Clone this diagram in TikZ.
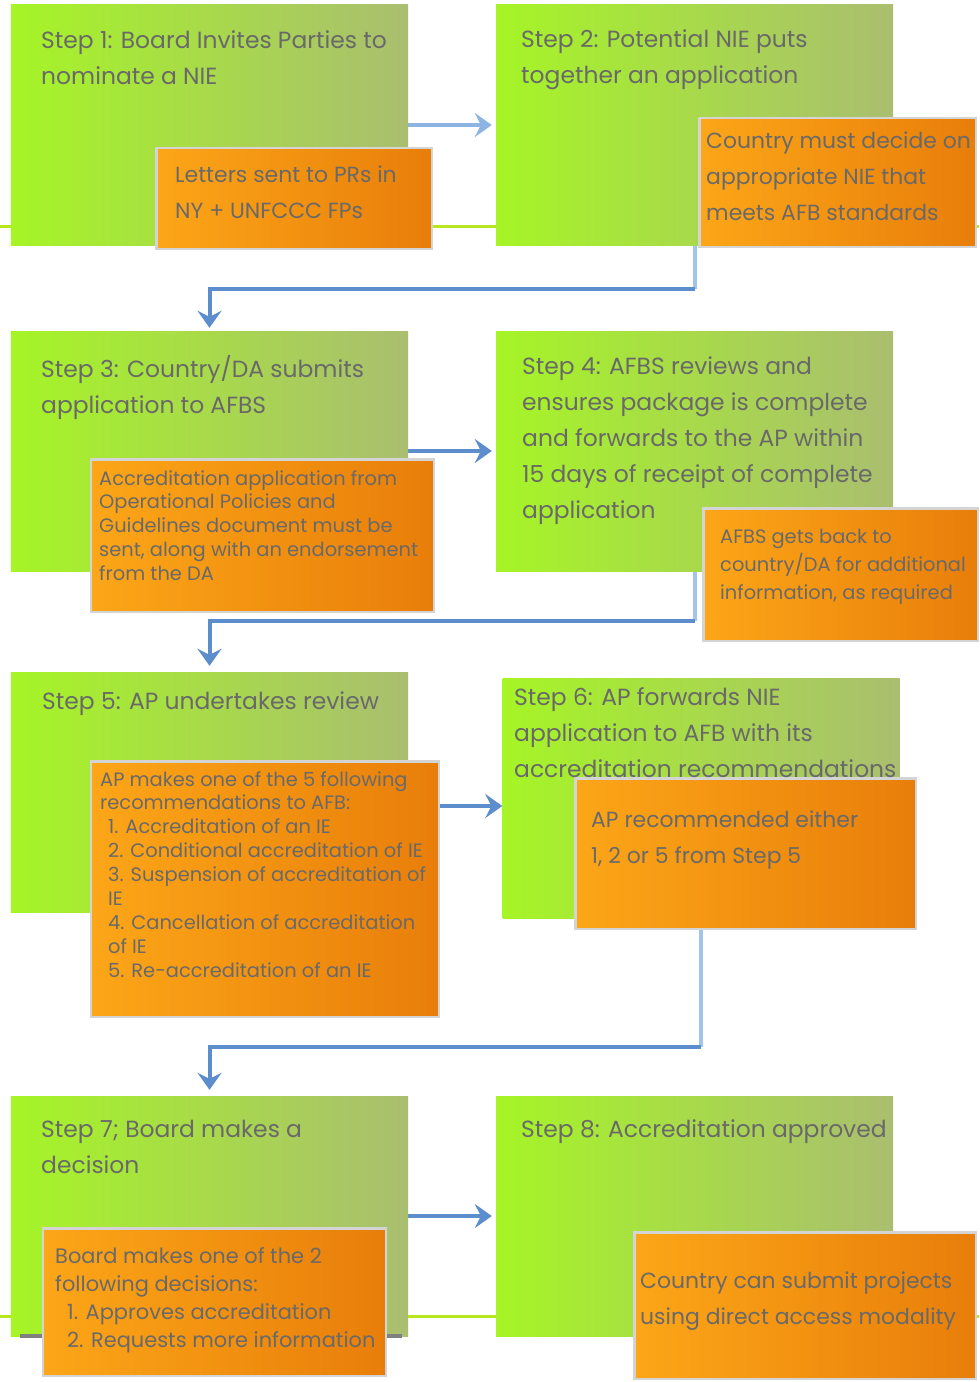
\documentclass[tikz,border=0pt]{standalone}
\usepackage{fontspec}
\setmainfont{Poppins}
\usetikzlibrary{arrows.meta,backgrounds}

\definecolor{stepleft}{RGB}{166,245,38}
\definecolor{stepright}{RGB}{170,190,112}
\definecolor{noteleft}{RGB}{252,166,24}
\definecolor{noteright}{RGB}{232,126,10}
\definecolor{noteframe}{RGB}{212,212,212}
\definecolor{txtgray}{RGB}{105,105,105}
\definecolor{arrowblue}{RGB}{92,142,206}
\definecolor{paleblue}{RGB}{162,196,234}
\definecolor{stripegreen}{RGB}{184,230,30}

\begin{document}
\begin{tikzpicture}[x=1bp, y=-1bp, node distance=485bp]
  % Define block styles
  \tikzstyle{stepbox} = [rectangle, minimum width=397bp, minimum height=240bp, inner sep=0, left color=stepleft, right color=stepright]
  \tikzstyle{notebox} = [rectangle, draw=noteframe, line width=2.5bp, inner sep=0, left color=noteleft, right color=noteright]
  \tikzstyle{titletext} = [anchor=north west, inner sep=0, align=left, text=txtgray, font=\fontsize{23.5}{36}\selectfont]
  \tikzstyle{notetext} = [titletext, font=\fontsize{22}{36}\selectfont]
  \tikzstyle{midtext} = [titletext, font=\fontsize{21}{28}\selectfont]
  \tikzstyle{smalltext} = [titletext, font=\fontsize{19.5}{24}\selectfont]
  \tikzstyle{line} = [draw=arrowblue, line width=4bp, -{Stealth[length=17bp, width=24bp, inset=6bp]}]
  \tikzstyle{feed} = [draw=paleblue, line width=4bp]

  \useasboundingbox (0,0) rectangle (979,1382);

  % Place blocks
  \node [stepbox] (step1) at (209.5,125) {};
  \node [stepbox, right of=step1] (step2) {};
  \node [stepbox, below of=step1, node distance=326bp] (step3) {};
  \node [stepbox, right of=step3] (step4) {};
  \node [stepbox, below of=step3, node distance=341bp] (step5) {};
  \node [stepbox] (step6) at (701,798) {};
  \node [stepbox, below of=step5, node distance=424bp] (step7) {};
  \node [stepbox, right of=step7] (step8) {};

  % shadow under step 7
  \fill [black!50] (20,1334) rectangle (402,1338);

  \node [notebox, minimum width=275.5bp, minimum height=100.5bp] (note1) at (294,198.5) {};
  \node [notebox, minimum width=276.5bp, minimum height=128.5bp] (note2) at (837.5,182.5) {};
  \node [notebox, minimum width=342.5bp, minimum height=152.5bp] (note3) at (262.5,535.5) {};
  \node [notebox, minimum width=274.5bp, minimum height=132.5bp] (note4) at (840.5,574.5) {};
  \node [notebox, minimum width=347.5bp, minimum height=255.5bp] (note5) at (265,889) {};
  \node [notebox, minimum width=340.5bp, minimum height=150.5bp] (note6) at (745.5,853.5) {};
  \node [notebox, minimum width=342.5bp, minimum height=147.5bp] (note7) at (214.5,1302) {};
  \node [notebox, minimum width=341.5bp, minimum height=146.5bp] (note8) at (805,1305.5) {};

  % Texts
  \node [titletext] (step1txt) at (41,30.6) {Step 1: Board Invites Parties to\\nominate a NIE};
  \node [notetext] (note1txt) at (175,166) {Letters sent to PRs in\\NY + UNFCCC FPs};
  \node [titletext] (step2txt) at (521,29.6) {Step 2: Potential NIE puts\\together an application};
  \node [notetext] (note2txt) at (706,132) {Country must decide on\\appropriate NIE that\\meets AFB standards};
  \node [titletext] (step3txt) at (41,355.6) {Step 3: Country/DA submits\\application to AFBS};
  \node [smalltext] (note3txt) at (99,470) {Accreditation application from\\Operational Policies and\\Guidelines document must be\\sent, along with an endorsement\\from the DA};
  \node [titletext] (step4txt) at (522,356.6) {Step 4: AFBS reviews and\\ensures package is complete\\and forwards to the AP within\\15 days of receipt of complete\\application};
  \node [midtext, font=\fontsize{19.5}{28}\selectfont] (note4txt) at (720,529) {AFBS gets back to\\country/DA for additional\\information, as required};
  \node [titletext] (step5txt) at (42,691.6) {Step 5: AP undertakes review};
  \node [smalltext] (note5txt) at (100,771) {AP makes one of the 5 following\\recommendations to AFB:\\\hspace*{8bp}1. Accreditation of an IE\\\hspace*{8bp}2. Conditional accreditation of IE\\\hspace*{8bp}3. Suspension of accreditation of\\\hspace*{8bp}IE\\\hspace*{8bp}4. Cancellation of accreditation\\\hspace*{8bp}of IE\\\hspace*{8bp}5. Re-accreditation of an IE};
  \node [titletext] (step6txt) at (514,687.6) {Step 6: AP forwards NIE\\application to AFB with its\\accreditation recommendations};
  \node [notetext] (note6txt) at (591,811) {AP recommended either\\1, 2 or 5 from Step 5};
  \node [titletext] (step7txt) at (41,1119.6) {Step 7; Board makes a\\decision};
  \node [midtext] (note7txt) at (55,1247.6) {Board makes one of the 2\\following decisions:\\\hspace*{12bp}1. Approves accreditation\\\hspace*{12bp}2. Requests more information};
  \node [titletext] (step8txt) at (521,1119.6) {Step 8: Accreditation approved};
  \node [notetext] (note8txt) at (640,1272) {Country can submit projects\\using direct access modality};

  \begin{scope}[on background layer]
    \fill [white] (0,0) rectangle (979,1382);
    \draw [color=stripegreen, line width=3bp] (0,227) -- (979,227);
    \draw [color=stripegreen, line width=3bp] (0,1316) -- (979,1316);

    % Draw lines
    \path [line, draw=paleblue!70!arrowblue, shorten >=4bp] (step1) -- (step2);
    \path [feed] (step2.south) -- ++(0,44) coordinate (bend2);
    \path [line, shorten >=3bp] (bend2) -| (step3.north);
    \path [line, shorten >=4bp] (step3) -- (step4);
    \path [feed] (step4.south) -- ++(0,50) coordinate (bend4);
    \path [line, shorten >=6bp] (bend4) -| (step5.north);
    \coordinate (in6) at ([yshift=-8bp]step6.west);
    \path [line] (note5.east |- in6) -- (in6);
    \path [feed] (step6.south) -- ++(0,129) coordinate (bend6);
    \path [line, shorten >=6bp] (bend6) -| (step7.north);
    \path [line, shorten >=4bp] (step7) -- (step8);
  \end{scope}
\end{tikzpicture}
\end{document}
